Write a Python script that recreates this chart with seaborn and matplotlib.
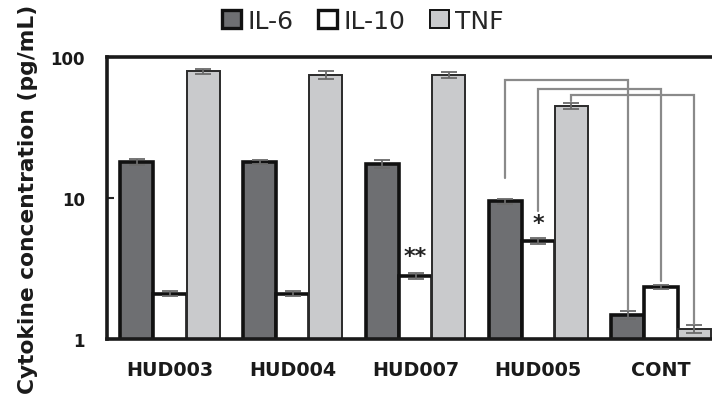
#!/usr/bin/env python3
"""
Cytokine concentration bar chart (log scale) with significance brackets.
"""

import pandas as pd
import matplotlib.pyplot as plt
import seaborn as sns
from matplotlib.patches import Patch

# Data
samples = ['HUD003', 'HUD004', 'HUD007', 'HUD005', 'CONT']
cytokines = ['IL-6', 'IL-10', 'TNF']
il6 = [18.0, 18.0, 17.4, 9.5, 1.48]
il10 = [2.1, 2.1, 2.8, 4.95, 2.33]
tnf = [79.0, 74.5, 74.5, 45.0, 1.18]
il6_err = [0.8, 0.7, 1.1, 0.4, 0.09]
il10_err = [0.09, 0.08, 0.15, 0.25, 0.08]
tnf_err = [3.0, 4.5, 3.5, 2.5, 0.08]

# significance marks: (sample, cytokine, text, y)
stars = [('HUD007', 'IL-10', '**', 3.85), ('HUD005', 'IL-10', '*', 6.7)]
# brackets HUD005 -> CONT: (cytokine, start y, top y, end y)
brackets = [('IL-6', 13.9, 68.7, 1.60),
            ('IL-10', 8.1, 59.3, 2.58),
            ('TNF', 48.5, 53.8, 1.28)]

fills = {'IL-6': '#6e6f72', 'IL-10': '#ffffff', 'TNF': '#c9cacc'}


def main():
    values = {'IL-6': il6, 'IL-10': il10, 'TNF': tnf}
    errors = {'IL-6': il6_err, 'IL-10': il10_err, 'TNF': tnf_err}
    rows = []
    for c in cytokines:
        for s, v in zip(samples, values[c]):
            rows.append({'sample': s, 'cytokine': c, 'value': v})
    df = pd.DataFrame(rows)

    sns.set_style('white')
    plt.rcParams['font.family'] = ['DejaVu Sans']

    fig = plt.figure(figsize=(7.12, 4.02), dpi=100)
    ax = fig.add_axes([107 / 712, 1 - 340 / 402, 617 / 712, 282 / 402])

    sns.barplot(data=df, x='sample', y='value', hue='cytokine',
                order=samples, hue_order=cytokines, palette=fills,
                errorbar=None, width=0.81, gap=0, legend=False, ax=ax,
                saturation=1)

    ax.set_yscale('log')
    ax.set_ylim(1, 100)
    ax.set_xlim(-0.513, 4.513)

    # bar edges + error bars
    centers = {}
    for c, cont in zip(cytokines, ax.containers):
        xs = []
        for bar in cont:
            if c == 'TNF':
                bar.set_edgecolor('#2a2a2a')
                bar.set_linewidth(1.4)
            else:
                bar.set_edgecolor('#111111')
                bar.set_linewidth(2.6)
            xs.append(bar.get_x() + bar.get_width() / 2)
        centers[c] = xs
        ax.errorbar(xs, values[c], yerr=errors[c], fmt='none',
                    ecolor='#6a6a6a', elinewidth=1.3, capsize=5.5,
                    capthick=1.3, zorder=5)

    # brackets
    i5 = samples.index('HUD005')
    ic = samples.index('CONT')
    for c, y0, ytop, y1 in brackets:
        x0 = centers[c][i5]
        x1 = centers[c][ic]
        ax.plot([x0, x0, x1, x1], [y0, ytop, ytop, y1], color='#8a8a8a',
                lw=1.6, solid_joinstyle='miter', zorder=6, clip_on=False)

    for s, c, txt, y in stars:
        ax.text(centers[c][samples.index(s)], y, txt, ha='center',
                va='center', fontsize=16, fontweight='bold', color='#222222')

    # axes styling
    for side in ['left', 'bottom', 'top', 'right']:
        ax.spines[side].set_visible(True)
        ax.spines[side].set_color('#1a1a1a')
        ax.spines[side].set_linewidth(2.6)
    ax.set_yticks([1, 10, 100])
    ax.set_yticklabels(['1', '10', '100'])
    ax.minorticks_off()
    ax.tick_params(axis='y', which='major', direction='in', length=5,
                   width=1.5, left=True, pad=16, labelsize=12)
    ax.tick_params(axis='x', length=0, pad=15, labelsize=13.8)
    for lab in ax.get_xticklabels() + ax.get_yticklabels():
        lab.set_fontweight('bold')
        lab.set_color('#1a1a1a')
    ax.set_xlabel('')
    ax.set_ylabel('Cytokine concentration (pg/mL)', fontsize=15.7,
                  fontweight='bold', labelpad=9, color='#1a1a1a')

    handles = [Patch(facecolor=fills[c], edgecolor='#111111',
                     linewidth=2.4 if c != 'TNF' else 1.4, label=c)
               for c in cytokines]
    fig.legend(handles=handles, loc='center', ncol=3, frameon=False,
               bbox_to_anchor=(363 / 712, 1 - 22 / 402), fontsize=18,
               handlelength=0.75, handleheight=0.75, handletextpad=0.25,
               columnspacing=1.0, borderaxespad=0)

    fig.savefig('out.png', dpi=100)
    plt.close(fig)


if __name__ == '__main__':
    main()
